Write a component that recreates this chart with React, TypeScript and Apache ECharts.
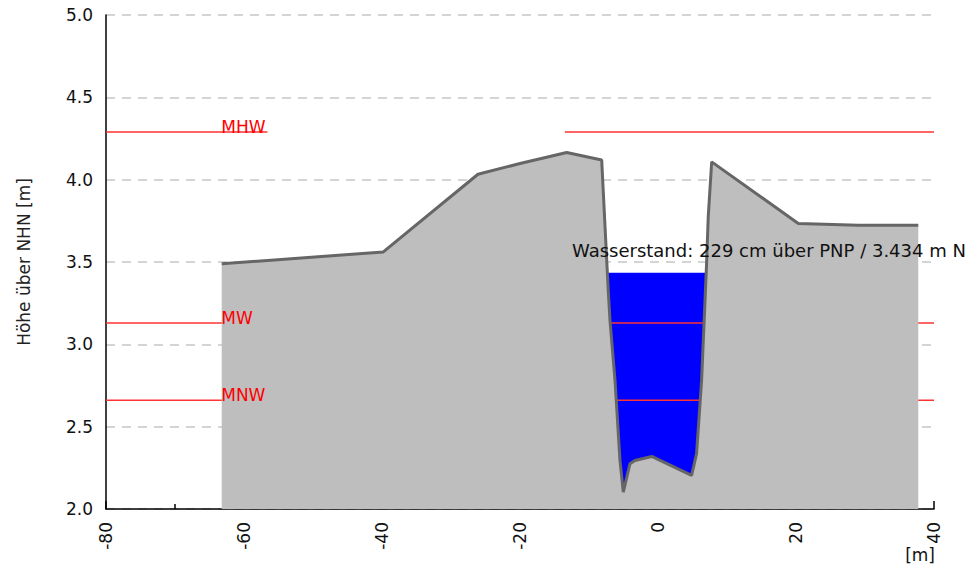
import React, { useEffect, useRef } from "react";
import * as echarts from "echarts";

// Cross-section profile (terrain) – distance [m] and height above NHN [m]
const terrainX = [-63.23, -39.81, -26.09, -20.0, -13.23, -8.16, -7.2, -6.96, -6.23, -5.51, -5.03, -4.06, -3.33, -0.91, 4.87, 5.59, 6.32, 7.04, 7.28, 7.78, 20.33, 29.04, 37.72];
const terrainY = [3.489, 3.561, 4.033, 4.098, 4.165, 4.119, 3.318, 3.146, 2.781, 2.295, 2.102, 2.275, 2.295, 2.319, 2.204, 2.336, 2.781, 3.491, 3.774, 4.108, 3.734, 3.723, 3.723];

// Characteristic water levels
const levelNames = ["MHW", "MW", "MNW"];
const levelValues = [4.29, 3.13, 2.66];
const mhwGap = [-56.6, -13.5]; // MHW line hidden between these distances

// Current water level
const waterLevel = 3.434;
const waterText = "Wasserstand: 229 cm über PNP / 3.434 m NHN";

// Axes
const xMin = -80;
const xMax = 40;
const xInterval = 20;
const yMin = 2.0;
const yMax = 5.0;
const yInterval = 0.5;

const FONT = "DejaVu Sans";

function waterPolygon(xs: number[], ys: number[], level: number): number[][] {
  let iMin = 0;
  for (let i = 1; i < ys.length; i++) if (ys[i] < ys[iMin]) iMin = i;
  let l = iMin;
  while (l > 0 && ys[l - 1] < level) l--;
  let r = iMin;
  while (r < ys.length - 1 && ys[r + 1] < level) r++;
  const pts: number[][] = [];
  if (l > 0) {
    const t = (level - ys[l - 1]) / (ys[l] - ys[l - 1]);
    pts.push([xs[l - 1] + t * (xs[l] - xs[l - 1]), level]);
  }
  for (let i = l; i <= r; i++) pts.push([xs[i], ys[i]]);
  if (r < ys.length - 1) {
    const t = (level - ys[r]) / (ys[r + 1] - ys[r]);
    pts.push([xs[r] + t * (xs[r + 1] - xs[r]), level]);
  }
  return pts;
}

export default function App() {
  const ref = useRef<HTMLDivElement>(null);

  useEffect(() => {
    document.body.style.margin = "0";
    if (!ref.current) return;
    const chart = echarts.init(ref.current, null, { renderer: "svg" });

    const waterPts = waterPolygon(terrainX, terrainY, waterLevel);
    const terrainData = terrainX.map((x, i) => [x, terrainY[i]]);

    const levelSeries = levelNames.map((name, k) => {
      const v = levelValues[k];
      const data: any[] =
        name === "MHW"
          ? [[xMin, v], [mhwGap[0], v], [(mhwGap[0] + mhwGap[1]) / 2, "-"], [mhwGap[1], v], [xMax, v]]
          : [[xMin, v], [xMax, v]];
      return {
        type: "line",
        name,
        data,
        symbol: "none",
        connectNulls: false,
        silent: true,
        z: 2,
        lineStyle: { color: "#ff3333", width: 1.5 },
      };
    });

    chart.setOption({
      animation: false,
      textStyle: { fontFamily: FONT },
      grid: { left: 106, right: 33, top: 15, bottom: 60 },
      xAxis: {
        type: "value",
        min: xMin,
        max: xMax,
        interval: xInterval,
        axisLine: { show: true, onZero: false, lineStyle: { color: "#000", width: 1.5 } },
        axisTick: { show: true, inside: true, length: 8, lineStyle: { color: "#000", width: 1.5 } },
        minorTick: { show: true, splitNumber: 2, length: 5, lineStyle: { color: "#000", width: 1.5 } },
        splitLine: { show: false },
        axisLabel: { rotate: 90, margin: 13, color: "#111", fontSize: 17, fontFamily: FONT },
      },
      yAxis: {
        type: "value",
        min: yMin,
        max: yMax,
        interval: yInterval,
        name: "Höhe über NHN [m]",
        nameLocation: "middle",
        nameRotate: 90,
        nameGap: 74,
        nameTextStyle: { color: "#222", fontSize: 17, fontFamily: FONT },
        axisLine: { show: true, onZero: false, lineStyle: { color: "#000", width: 1.5 } },
        axisTick: { show: false },
        splitLine: { show: true, lineStyle: { color: "#c6c6c6", width: 1.5, type: [9, 7] } },
        axisLabel: {
          margin: 13,
          color: "#111",
          fontSize: 17,
          fontFamily: FONT,
          formatter: (v: number) => v.toFixed(1),
        },
      },
      graphic: [
        {
          type: "text",
          left: 572,
          top: 241,
          z: 100,
          style: { text: waterText, font: `18px "${FONT}"`, fill: "#111" },
        },
        {
          type: "text",
          right: 32,
          top: 546,
          z: 100,
          style: { text: "[m]", font: `17px "${FONT}"`, fill: "#111" },
        },
      ],
      series: [
        {
          type: "custom",
          coordinateSystem: "cartesian2d",
          data: [[0, waterLevel]],
          z: 1,
          silent: true,
          renderItem: (params: any, api: any) => {
            if (params.dataIndex !== 0) return null;
            return {
              type: "polygon",
              shape: { points: waterPts.map((p) => api.coord(p)) },
              style: { fill: "#0000ff" },
            };
          },
        },
        ...levelSeries,
        {
          type: "line",
          name: "Profil",
          data: terrainData,
          symbol: "none",
          silent: true,
          z: 3,
          lineStyle: { color: "#666666", width: 3 },
          areaStyle: { color: "#bebebe", opacity: 1, origin: "start" },
        },
        {
          type: "scatter",
          data: levelNames.map((n, k) => [terrainX[0], levelValues[k], n]),
          symbol: "rect",
          symbolSize: 1,
          itemStyle: { color: "rgba(0,0,0,0)" },
          silent: true,
          z: 5,
          label: {
            show: true,
            position: [0, 4],
            align: "left",
            verticalAlign: "bottom",
            color: "#ff0000",
            opacity: 1,
            fontSize: 17,
            fontFamily: FONT,
            formatter: (p: any) => p.data[2],
          },
        },
      ],
    });

    return () => chart.dispose();
  }, []);

  return <div ref={ref} style={{ width: 967, height: 569 }} />;
}
